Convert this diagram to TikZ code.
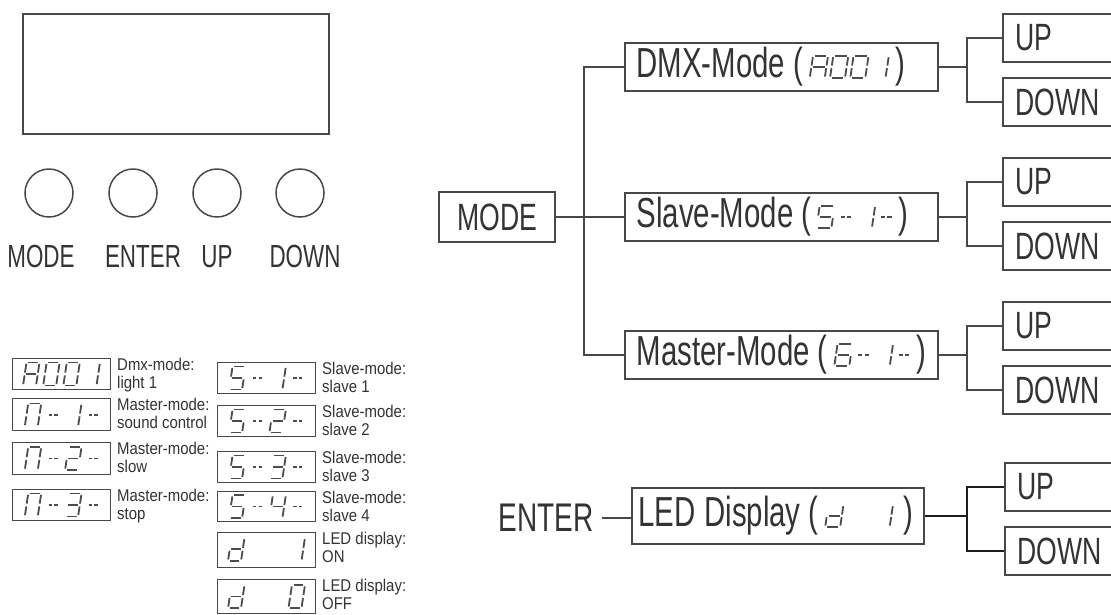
\documentclass[tikz,border=0pt]{standalone}
\usepackage{fontspec}
\setmainfont[FakeStretch=0.7]{Liberation Sans}
\newfontfamily\notefont[FakeStretch=0.88]{Liberation Sans}
\usetikzlibrary{positioning}

\definecolor{linegray}{HTML}{484848}
\definecolor{textgray}{HTML}{333333}
\definecolor{seggray}{HTML}{4C4C4C}
\definecolor{ledline}{HTML}{1E1E1E}

% one segment of a seven-segment digit (h = the double dash)
\newcommand{\segline}[1]{%
  \if#1a\draw (0.12,2) -- (0.88,2);\fi
  \if#1b\draw (1,1.88) -- (1,1.12);\fi
  \if#1c\draw (1,0.88) -- (1,0.12);\fi
  \if#1d\draw (0.12,0) -- (0.88,0);\fi
  \if#1e\draw (0,0.88) -- (0,0.12);\fi
  \if#1f\draw (0,1.88) -- (0,1.12);\fi
  \if#1g\draw (0.12,1) -- (0.88,1);\fi
  \if#1h\draw (0.15,1) -- (0.42,1) (0.58,1) -- (0.85,1);\fi}
% [pitch]{x unit}{y unit}{line width}{cells}
\newcommand{\segdisp}[5][1.5]{%
  \tikz[baseline=0pt, x=#2, y=#3, line width=#4, color=seggray]{%
    \edef\seglist{#5}%
    \foreach \cell [count=\i from 0] in \seglist {%
      \begin{scope}[shift={(\i*#1,0)}, xslant=0.15]
        \foreach \s in \cell {\segline\s}
      \end{scope}}}}
\newcommand{\gap}[1][8pt]{\hspace{#1}}

\begin{document}
\begin{tikzpicture}[x=1pt, y=-1pt, color=linegray,
    bigtext/.style={text=textgray, inner sep=0pt, font=\fontsize{32}{34}\selectfont},
    button/.style={circle, draw, line width=1.5pt, minimum size=48pt, inner sep=0pt},
    segbox/.style={draw, line width=1pt, minimum width=98pt, anchor=north west, inner sep=0pt},
    note/.style={text=textgray, align=left, inner sep=0pt, font=\notefont\fontsize{17}{18}\selectfont},
    modebox/.style={draw, line width=2.2pt, anchor=west, minimum height=48pt, text width=290pt,
                    inner xsep=11.5pt, inner ysep=0pt, align=left, text=textgray,
                    font=\fontsize{42}{44}\selectfont},
    keybox/.style={modebox, text width=110pt, inner xsep=12pt, font=\fontsize{38}{40}\selectfont},
    link/.style={line width=2pt}]
  \useasboundingbox (0,0) rectangle (1111,614);
  \clip (0,0) rectangle (1111,614);

  % front panel
  \node[draw, line width=2.2pt, minimum width=306pt, minimum height=120pt,
        anchor=north west, inner sep=0pt] (lcd) at (22,13) {};
  \foreach \name/\bx/\lx/\txt in {Mode/49/41/MODE, Enter/133/143/ENTER, Up/217/217/UP, Down/300/305/DOWN} {
    \node[button] (bt\name) at (\bx,193) {};
    \node[bigtext, anchor=base] (lb\name) at (\lx,267) {\txt};
  }

  % display codes
  \foreach \name/\x/\y/\h/\cells/\labA/\labB in {
      dA/12/358/31/{{a,b,c,e,f,g},{a,b,c,d,e,f},{a,b,c,d,e,f},{b,c}}/Dmx-mode:/light 1,
      dMa/12/398/32/{{a,b,c,e,f},{h},{b,c},{h}}/Master-mode:/sound control,
      dMb/12/442/32/{{a,b,c,e,f},{h},{a,b,g,e,d},{h}}/Master-mode:/slow,
      dMc/12/489/31/{{a,b,c,e,f},{h},{a,b,g,c,d},{h}}/Master-mode:/stop,
      dSa/217/362/31/{{a,f,g,c,d},{h},{b,c},{h}}/Slave-mode:/slave 1,
      dSb/217/405/31/{{a,f,g,c,d},{h},{a,b,g,e,d},{h}}/Slave-mode:/slave 2,
      dSc/217/451/31/{{a,f,g,c,d},{h},{a,b,g,c,d},{h}}/Slave-mode:/slave 3,
      dSd/217/491/30/{{a,f,g,c,d},{h},{f,g,b,c},{h}}/Slave-mode:/slave 4,
      dDa/217/532/35/{{b,c,d,e,g},{x},{x},{b,c}}/LED display:/ON,
      dDb/217/579/34/{{b,c,d,e,g},{x},{x},{a,b,c,d,e,f}}/LED display:/OFF} {
    \node[segbox, minimum height=\h pt] (\name) at (\x,\y) {\segdisp[1.55]{13pt}{11.5pt}{1.8pt}{\cells}};
    \node[note, right=6pt of \name.north east, anchor=north west] (\name-txt) {\labA\\\labB};
  }

  % menu tree
  \node[modebox, text width=93pt, minimum height=50pt, align=center,
        font=\fontsize{38}{40}\selectfont] (mode) at (438,217) {MODE};
  \node[modebox] (dmx) at (624,67)
    {\mbox{DMX-Mode\gap(\gap[6pt]\segdisp[1.35]{15pt}{11pt}{1.8pt}{{a,b,c,e,f,g},{a,b,c,d,e,f},{a,b,c,d,e,f},{b,c}}\gap[6pt])}};
  \node[modebox] (slave) at (624,217)
    {\mbox{Slave-Mode\gap(\gap[6pt]\segdisp[1.35]{15pt}{11pt}{1.8pt}{{a,f,g,c,d},{h},{b,c},{h}}\gap[6pt])}};
  \node[modebox] (master) at (624,355)
    {\mbox{Master-Mode\gap(\gap[6pt]\segdisp[1.35]{15pt}{11pt}{1.8pt}{{a,f,g,e,d,c},{h},{b,c},{h}}\gap[6pt])}};
  \node[modebox, text width=280pt, inner xsep=6pt, minimum height=56pt] (led) at (631,516)
    {\mbox{LED\gap[9pt]Display\gap(\gap[6pt]\segdisp[1.1]{15pt}{11pt}{1.8pt}{{b,c,d,e,g},{x},{x},{b,c}}\gap[10pt])}};
  \node[bigtext, anchor=east, inner xsep=8pt, font=\fontsize{40}{42}\selectfont] (enter) at (602,518) {ENTER};

  \foreach \name/\x/\y/\txt in {up1/1002/38/UP, dn1/1002/102/DOWN, up2/1002/182/UP, dn2/1002/246/DOWN,
                                up3/1002/326/UP, dn3/1002/390/DOWN, up4/1004/487/UP, dn4/1004/551/DOWN}
    \node[keybox] (\name) at (\x,\y) {\txt};

  \coordinate (tx) at (584,0);
  \coordinate (jx) at (967,0);
  \draw[link] (mode) -- (mode -| tx);
  \draw[link] (dmx.west) -| (tx |- master.west) -- (master.west);
  \draw[link] (tx |- slave.west) -- (slave.west);
  \foreach \m/\u/\d in {dmx/up1/dn1, slave/up2/dn2, master/up3/dn3} {
    \draw[link] (\m) -- (\m -| jx);
    \draw[link] (\u.west) -| (jx |- \d.west) -- (\d.west);
  }
  \draw[link, ledline] (led) -- (led -| jx);
  \draw[link, ledline] (up4.west) -| (jx |- dn4.west) -- (dn4.west);
  \draw[link] (enter.east) -- (enter.east -| led.west);
\end{tikzpicture}
\end{document}
